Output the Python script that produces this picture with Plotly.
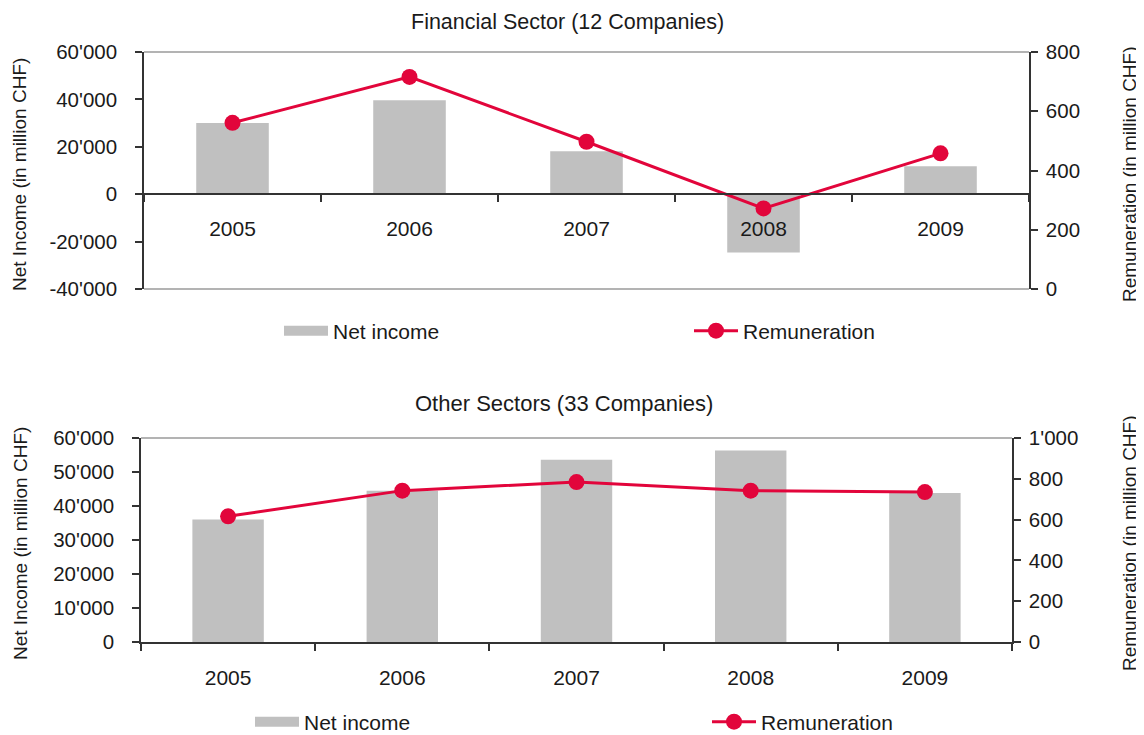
import plotly.graph_objects as go

# data
years = ["2005", "2006", "2007", "2008", "2009"]

fin_net_income = [30000, 39600, 18100, -24600, 11800]
fin_remuneration = [561, 716, 497, 272, 458]

oth_net_income = [36000, 44500, 53600, 56300, 43800]
oth_remuneration = [616, 742, 784, 742, 735]

fin_income_ticks = [-40000, -20000, 0, 20000, 40000, 60000]
fin_income_labels = ["-40'000", "-20'000", "0", "20'000", "40'000", "60'000"]
fin_rem_ticks = [0, 200, 400, 600, 800]
fin_rem_labels = ["0", "200", "400", "600", "800"]

oth_income_ticks = [0, 10000, 20000, 30000, 40000, 50000, 60000]
oth_income_labels = ["0", "10'000", "20'000", "30'000", "40'000", "50'000", "60'000"]
oth_rem_ticks = [0, 200, 400, 600, 800, 1000]
oth_rem_labels = ["0", "200", "400", "600", "800", "1'000"]

FONT = "Liberation Sans, Arial, sans-serif"
TXT = "#1a1a1a"
RED = "#e2053b"
GREY_BAR = "#c0c0c0"
AXIS = "#333333"
FRAME = "#9a9a9a"

# the page puts the figure 8px in from the top-left corner
W, H, OFF = 1136, 760, 8


def px(x):
    return (x - OFF) / W


def py(y):
    return 1 - (y - OFF) / H


TOP_X = [px(144), px(1029)]
TOP_Y = [py(289), py(52)]
BOT_X = [px(141), px(1012)]
BOT_Y = [py(642), py(438)]

boundaries = [i - 0.5 for i in range(len(years) + 1)]


def zero_pos(dom, rng):
    return dom[0] + (0 - rng[0]) / (rng[1] - rng[0]) * (dom[1] - dom[0])


def yax(rng, vals, text, side="left", ticks="outside", labels=True, **kw):
    return dict(range=rng, tickvals=vals, ticktext=text, side=side,
                ticks=ticks, ticklen=7, tickwidth=1.5, tickcolor=AXIS,
                showticklabels=labels, showgrid=False, zeroline=False,
                showline=labels, linecolor=AXIS, linewidth=1.5,
                ticklabelstandoff=14 if side == "left" else 4, automargin=False,
                tickfont=dict(family=FONT, size=20.5, color=TXT), **kw)


fig = go.Figure()

# Financial sector
fig.add_trace(go.Bar(x=years, y=fin_net_income, marker_color=GREY_BAR,
                     name="Net income", showlegend=False, xaxis="x", yaxis="y"))
fig.add_trace(go.Scatter(x=years, y=fin_remuneration, mode="lines+markers",
                         line=dict(color=RED, width=3), marker=dict(size=16, color=RED),
                         name="Remuneration", legend="legend2", xaxis="x", yaxis="y2"))
fig.add_trace(go.Scatter(x=[None], y=[None], mode="lines", line=dict(color=GREY_BAR, width=17),
                         name="Net income", legend="legend", xaxis="x", yaxis="y"))

# Other sectors
fig.add_trace(go.Bar(x=years, y=oth_net_income, marker_color=GREY_BAR,
                     name="Net income", showlegend=False, xaxis="x2", yaxis="y3"))
fig.add_trace(go.Scatter(x=years, y=oth_remuneration, mode="lines+markers",
                         line=dict(color=RED, width=3), marker=dict(size=16, color=RED),
                         name="Remuneration", legend="legend4", xaxis="x2", yaxis="y4"))
fig.add_trace(go.Scatter(x=[None], y=[None], mode="lines", line=dict(color=GREY_BAR, width=17),
                         name="Net income", legend="legend3", xaxis="x2", yaxis="y3"))

fin_rng = [fin_income_ticks[0], fin_income_ticks[-1]]
top_zero = zero_pos(TOP_Y, fin_rng)

xcommon = dict(showgrid=False, zeroline=False, ticklen=7, tickwidth=1.5, tickcolor=AXIS,
               automargin=False, tickfont=dict(family=FONT, size=21, color=TXT))

fig.update_layout(
    width=W, height=H,
    template="none",
    paper_bgcolor="white", plot_bgcolor="white",
    margin=dict(l=0, r=0, t=0, b=0),
    bargap=0.59,
    font=dict(family=FONT, size=20, color=TXT),
    # top chart
    xaxis=dict(domain=TOP_X, type="category", anchor="free", position=top_zero,
               ticks="outside", tickson="boundaries", showline=True,
               linecolor=AXIS, linewidth=1.5, ticklabelstandoff=16, **xcommon),
    xaxis3=dict(overlaying="x", range=[boundaries[0], boundaries[-1]], tickvals=boundaries,
                anchor="free", position=top_zero, ticks="inside", showticklabels=False,
                showline=False, **xcommon),
    yaxis=yax(fin_rng, fin_income_ticks, fin_income_labels, domain=TOP_Y, anchor="x"),
    yaxis2=yax([0, 800], fin_rem_ticks, fin_rem_labels, side="right",
               overlaying="y", anchor="x"),
    yaxis5=yax(fin_rng, fin_income_ticks, fin_income_labels, ticks="inside",
               labels=False, overlaying="y", anchor="x"),
    yaxis6=yax([0, 800], fin_rem_ticks, fin_rem_labels, side="right", ticks="inside",
               labels=False, overlaying="y", anchor="x"),
    # bottom chart
    xaxis2=dict(domain=BOT_X, type="category", anchor="y3",
                ticks="outside", tickson="boundaries", showline=True,
                linecolor=AXIS, linewidth=1.5, ticklabelstandoff=16, **xcommon),
    xaxis4=dict(overlaying="x2", range=[boundaries[0], boundaries[-1]], tickvals=boundaries,
                anchor="y3", ticks="inside", showticklabels=False, showline=False, **xcommon),
    yaxis3=yax([0, 60000], oth_income_ticks, oth_income_labels, domain=BOT_Y, anchor="x2"),
    yaxis4=yax([0, 1000], oth_rem_ticks, oth_rem_labels, side="right",
               overlaying="y3", anchor="x2"),
    yaxis7=yax([0, 60000], oth_income_ticks, oth_income_labels, ticks="inside",
               labels=False, overlaying="y3", anchor="x2"),
    yaxis8=yax([0, 1000], oth_rem_ticks, oth_rem_labels, side="right", ticks="inside",
               labels=False, overlaying="y3", anchor="x2"),
)

legend_common = dict(orientation="h", xanchor="left", yanchor="middle", itemwidth=44,
                     bgcolor="rgba(0,0,0,0)", font=dict(family=FONT, size=21, color=TXT))
fig.update_layout(
    legend=dict(x=px(279), y=py(331), **legend_common),
    legend2=dict(x=px(689), y=py(331), **legend_common),
    legend3=dict(x=px(250), y=py(722), **legend_common),
    legend4=dict(x=px(707), y=py(722), **legend_common),
)

# frame lines at top / bottom of the plot areas
for xr, yr, ys in [("x domain", "y domain", [0, 1]), ("x2 domain", "y3 domain", [1])]:
    for yy in ys:
        fig.add_shape(type="line", xref=xr, yref=yr, x0=0, x1=1, y0=yy, y1=yy,
                      line=dict(color=FRAME, width=1.5), layer="below")

titles = [
    ("Financial Sector (12 Companies)", 567, 22, 21.5),
    ("Other Sectors (33 Companies)", 564, 404, 22),
]
for txt, tx, ty, fs in titles:
    fig.add_annotation(text=txt, x=px(tx), y=py(ty), xref="paper", yref="paper",
                       xanchor="center", yanchor="middle", showarrow=False,
                       font=dict(family=FONT, size=fs, color=TXT))

axis_titles = [
    ("Net Income (in million CHF)", 20, 175),
    ("Net Income (in million CHF)", 20, 544),
    ("Remuneration (in million CHF)", 1129, 174),
    ("Remuneration (in million CHF)", 1129, 543),
]
for txt, tx, ty in axis_titles:
    fig.add_annotation(text=txt, x=px(tx), y=py(ty), xref="paper", yref="paper",
                       xanchor="center", yanchor="middle", showarrow=False, textangle=-90,
                       font=dict(family=FONT, size=19, color=TXT))

fig.write_html("out.html")
